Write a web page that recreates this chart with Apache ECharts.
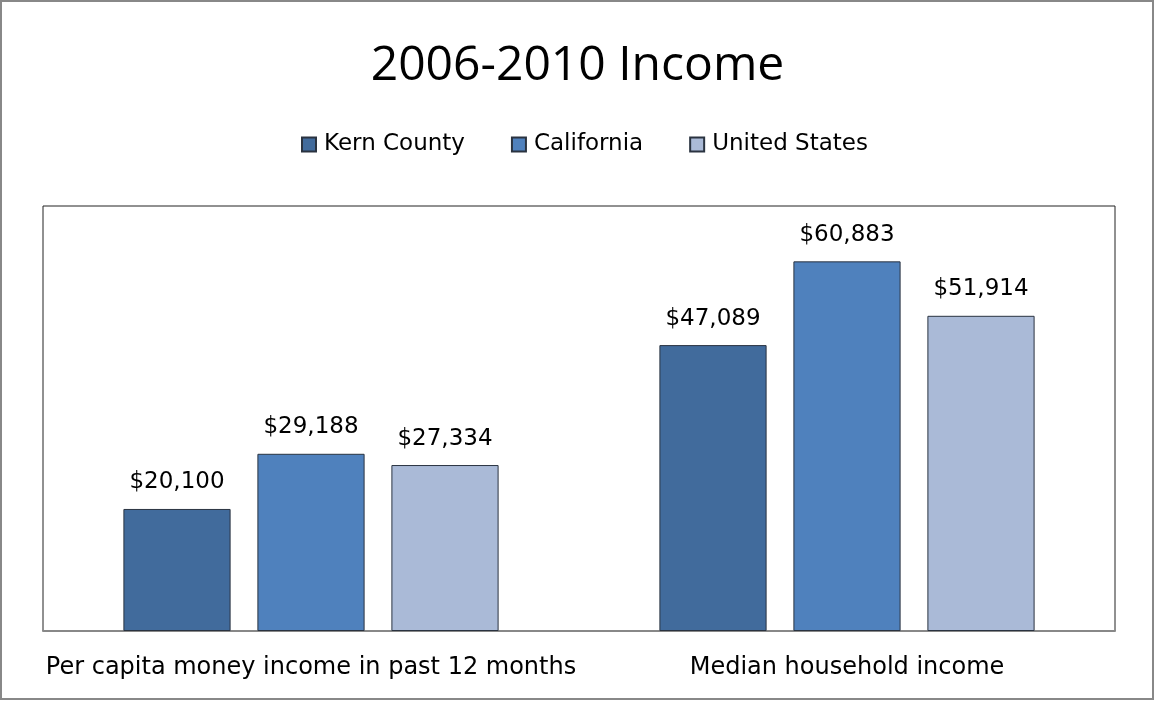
<!DOCTYPE html>
<html>
<head>
<meta charset="utf-8">
<script src="https://cdn.jsdelivr.net/npm/echarts@6/dist/echarts.min.js"></script>
<style>
  html, body { margin: 0; padding: 0; background: #fff; }
  #chart { width: 1155px; height: 702px; }
</style>
</head>
<body>
<div id="chart"></div>
<script>
// Income categories and per-area values (dollars)
const categories = ['Per capita money income in past 12 months', 'Median household income'];
const seriesNames = ['Kern County', 'California', 'United States'];
const kernCounty = [20100, 47089];
const california = [29188, 60883];
const unitedStates = [27334, 51914];
const colors = ['#416B9C', '#4F81BD', '#AABAD7'];

const TITLE_FONT = 'Open Sans';
const FONT = 'DejaVu Sans';
const fmt = v => '$' + v.toLocaleString('en-US');

const chart = echarts.init(document.getElementById('chart'));

function barSeries(name, data, color) {
  return {
    name: name,
    type: 'bar',
    data: data,
    barWidth: '20%',
    barGap: '25%',
    itemStyle: { color: color, borderColor: '#2a3340', borderWidth: 1 },
    label: {
      show: true,
      position: 'top',
      distance: 15,
      color: '#000',
      fontFamily: FONT,
      fontSize: 23,
      formatter: p => fmt(p.value)
    }
  };
}

chart.setOption({
  animation: false,
  backgroundColor: '#fff',
  title: {
    text: '2006-2010 Income',
    left: 'center',
    top: 37,
    textStyle: { fontFamily: TITLE_FONT, fontSize: 48, fontWeight: 'normal', color: '#000' }
  },
  legend: {
    top: 128,
    left: 296,
    itemWidth: 14,
    itemHeight: 14,
    itemGap: 46,
    icon: 'rect',
    data: seriesNames,
    textStyle: { fontFamily: FONT, fontSize: 23, color: '#000', padding: [0, 0, 0, 3] }
  },
  grid: {
    left: 43, right: 40, top: 206, bottom: 71,
    show: true,
    borderColor: '#222',
    borderWidth: 1,
    backgroundColor: '#fff'
  },
  xAxis: {
    type: 'category',
    data: categories,
    axisLine: { show: true, lineStyle: { color: '#888', width: 2 } },
    axisTick: { show: false },
    axisLabel: { interval: 0, hideOverlap: false, fontFamily: FONT, fontSize: 24, color: '#000', margin: 25 }
  },
  yAxis: {
    type: 'value',
    min: 0,
    max: 70000,
    interval: 10000,
    show: false,
    splitLine: { show: false }
  },
  graphic: [{
    type: 'rect',
    shape: { x: 1, y: 1, width: 1152, height: 698 },
    style: { fill: 'none', stroke: '#888', lineWidth: 2 },
    silent: true
  }],
  series: [
    barSeries(seriesNames[0], kernCounty, colors[0]),
    barSeries(seriesNames[1], california, colors[1]),
    barSeries(seriesNames[2], unitedStates, colors[2])
  ]
});
</script>
</body>
</html>
